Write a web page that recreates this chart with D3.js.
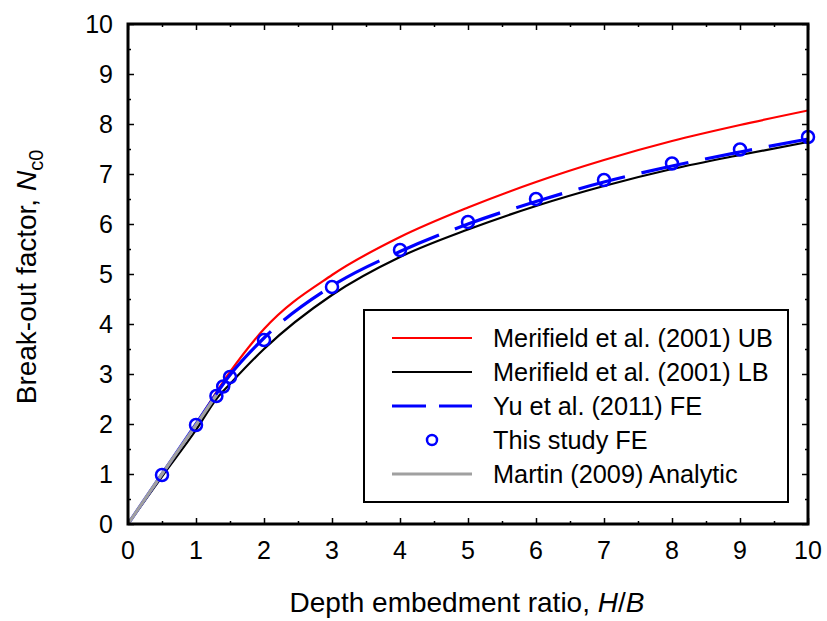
<!DOCTYPE html>
<html>
<head>
<meta charset="utf-8">
<script src="https://cdn.jsdelivr.net/npm/d3@7"></script>
<style>
  body { margin: 0; background: #fff; }
  text { font-family: "Liberation Sans", Arial, sans-serif; }
</style>
</head>
<body>
<script>
// Merifield et al. (2001) upper and lower bounds
const ubX = [0, 0.5, 1, 1.5, 2, 3, 4, 5, 6, 7, 8, 9, 10];
const ubY = [0, 1.0, 2.0, 3.04, 3.9, 4.98, 5.74, 6.33, 6.84, 7.28, 7.66, 7.98, 8.27];
const lbX = [0, 0.5, 1, 1.3, 1.5, 2, 3, 4, 5, 6, 7, 8, 9, 10];
const lbY = [0, 0.95, 1.88, 2.5, 2.8, 3.5, 4.58, 5.34, 5.89, 6.36, 6.76, 7.1, 7.38, 7.64];
// Yu et al. (2011) FE
const yuX = [0, 0.5, 1, 1.5, 2, 3, 4, 5, 6, 7, 8, 9, 10];
const yuY = [0, 1.0, 2.0, 2.98, 3.72, 4.76, 5.45, 6.0, 6.45, 6.84, 7.16, 7.44, 7.7];
// Martin (2009) analytic
const maX = [0, 0.5, 1, 1.3];
const maY = [0, 1.0, 1.98, 2.58];
// This study FE
const feX = [0.5, 1, 1.3, 1.4, 1.5, 2, 3, 4, 5, 6, 7, 8, 9, 10];
const feY = [0.98, 1.98, 2.56, 2.75, 2.94, 3.68, 4.74, 5.48, 6.04, 6.5, 6.88, 7.21, 7.49, 7.74];

const legendItems = [
  {label: "Merifield et al. (2001) UB", type: "line", color: "#ff0000", width: 2.2},
  {label: "Merifield et al. (2001) LB", type: "line", color: "#000000", width: 2.2},
  {label: "Yu et al. (2011) FE", type: "dash", color: "#0000ff", width: 3.2},
  {label: "This study FE", type: "circle", color: "#0000ff"},
  {label: "Martin (2009) Analytic", type: "line", color: "#a0a0a0", width: 3.2}
];

const width = 827, height = 621;
const margin = {top: 24, right: 19, bottom: 97, left: 128};

const x = d3.scaleLinear().domain([0, 10]).range([margin.left, width - margin.right]);
const y = d3.scaleLinear().domain([0, 10]).range([height - margin.bottom, margin.top]);

const svg = d3.select("body").append("svg")
    .attr("width", width)
    .attr("height", height);

const line = d3.line()
    .x(d => x(d[0]))
    .y(d => y(d[1]))
    .curve(d3.curveMonotoneX);

const zip = (a, b) => a.map((v, i) => [v, b[i]]);

svg.append("clipPath").attr("id", "clip")
  .append("rect")
    .attr("x", margin.left).attr("y", margin.top)
    .attr("width", x(10) - x(0)).attr("height", y(0) - y(10));

const plot = svg.append("g").attr("clip-path", "url(#clip)");

plot.append("path")
    .attr("d", line(zip(ubX, ubY)))
    .attr("fill", "none").attr("stroke", "#ff0000").attr("stroke-width", 2.2);

plot.append("path")
    .attr("d", line(zip(lbX, lbY)))
    .attr("fill", "none").attr("stroke", "#000").attr("stroke-width", 2.2);

// dashed FE curve: first stretch solid up to about H/B = 2.1, then dashes
const yuPath = plot.append("path")
    .attr("d", line(zip(yuX, yuY)))
    .attr("fill", "none").attr("stroke", "#0000ff").attr("stroke-width", 3.2);
{
  const node = yuPath.node();
  const total = node.getTotalLength();
  let lo = 0, hi = total;
  for (let k = 0; k < 30; k++) {
    const mid = (lo + hi) / 2;
    if (node.getPointAtLength(mid).x < x(2.1)) lo = mid; else hi = mid;
  }
  const dashes = [lo, 17];
  for (let s = lo + 17; s < total; s += 65) dashes.push(48, 17);
  yuPath.attr("stroke-dasharray", dashes.join(","));
}

plot.append("path")
    .attr("d", line(zip(maX, maY)))
    .attr("fill", "none").attr("stroke", "#a0a0a0").attr("stroke-width", 3.2);

svg.append("g")
  .selectAll("circle")
  .data(zip(feX, feY))
  .join("circle")
    .attr("cx", d => x(d[0]))
    .attr("cy", d => y(d[1]))
    .attr("r", 6)
    .attr("fill", "none")
    .attr("stroke", "#0000ff")
    .attr("stroke-width", 2.5);

// axes with inward ticks, major and minor
const major = d3.range(0, 11, 1);
const minor = d3.range(0.5, 10, 1);

function ticks(g, axis, vals, size) {
  g.call(axis.tickValues(vals).tickSize(size).tickFormat(""))
    .call(g => g.select(".domain").remove())
    .call(g => g.selectAll(".tick line").attr("stroke-width", 1.5));
}

svg.append("g").attr("transform", `translate(0,${y(0)})`).call(g => ticks(g, d3.axisTop(x), major, 6));
svg.append("g").attr("transform", `translate(0,${y(0)})`).call(g => ticks(g, d3.axisTop(x), minor, 3));
svg.append("g").attr("transform", `translate(0,${y(10)})`).call(g => ticks(g, d3.axisBottom(x), major, 6));
svg.append("g").attr("transform", `translate(0,${y(10)})`).call(g => ticks(g, d3.axisBottom(x), minor, 3));
svg.append("g").attr("transform", `translate(${x(0)},0)`).call(g => ticks(g, d3.axisRight(y), major, 6));
svg.append("g").attr("transform", `translate(${x(0)},0)`).call(g => ticks(g, d3.axisRight(y), minor, 3));
svg.append("g").attr("transform", `translate(${x(10)},0)`).call(g => ticks(g, d3.axisLeft(y), major, 6));
svg.append("g").attr("transform", `translate(${x(10)},0)`).call(g => ticks(g, d3.axisLeft(y), minor, 3));

// tick labels
svg.append("g")
  .selectAll("text")
  .data(major)
  .join("text")
    .attr("x", d => x(d))
    .attr("y", y(0) + 35)
    .attr("text-anchor", "middle")
    .attr("font-size", 25)
    .text(d => d);

svg.append("g")
  .selectAll("text")
  .data(major)
  .join("text")
    .attr("x", x(0) - 15)
    .attr("y", d => y(d) + 9)
    .attr("text-anchor", "end")
    .attr("font-size", 25)
    .text(d => d);

// frame
svg.append("rect")
    .attr("x", x(0)).attr("y", y(10))
    .attr("width", x(10) - x(0)).attr("height", y(0) - y(10))
    .attr("fill", "none").attr("stroke", "#000").attr("stroke-width", 3);

// axis titles
const xTitle = svg.append("text")
    .attr("x", 467)
    .attr("y", 612)
    .attr("text-anchor", "middle")
    .attr("font-size", 28);
xTitle.append("tspan").text("Depth embedment ratio, ");
xTitle.append("tspan").attr("font-style", "italic").text("H");
xTitle.append("tspan").text("/");
xTitle.append("tspan").attr("font-style", "italic").text("B");

const yTitle = svg.append("text")
    .attr("transform", `translate(36,277) rotate(-90)`)
    .attr("text-anchor", "middle")
    .attr("font-size", 28);
yTitle.append("tspan").text("Break-out factor, ");
yTitle.append("tspan").attr("font-style", "italic").text("N");
yTitle.append("tspan").attr("font-size", 20).attr("dy", 7).text("c0");

// legend
const lg = svg.append("g");
lg.append("rect")
    .attr("x", 364).attr("y", 310).attr("width", 424).attr("height", 192)
    .attr("fill", "#fff").attr("stroke", "#000").attr("stroke-width", 2);

const row = lg.selectAll("g")
  .data(legendItems)
  .join("g")
    .attr("transform", (d, i) => `translate(0,${338 + i * 34})`);

row.filter(d => d.type !== "circle").append("line")
    .attr("x1", 392).attr("x2", 472)
    .attr("stroke", d => d.color)
    .attr("stroke-width", d => d.width)
    .attr("stroke-dasharray", d => d.type === "dash" ? "34,13" : null);

row.filter(d => d.type === "circle").append("circle")
    .attr("cx", 432).attr("r", 5)
    .attr("fill", "none").attr("stroke", d => d.color).attr("stroke-width", 2.5);

row.append("text")
    .attr("x", 493).attr("y", 9)
    .attr("font-size", 25.3)
    .text(d => d.label);
</script>
</body>
</html>
